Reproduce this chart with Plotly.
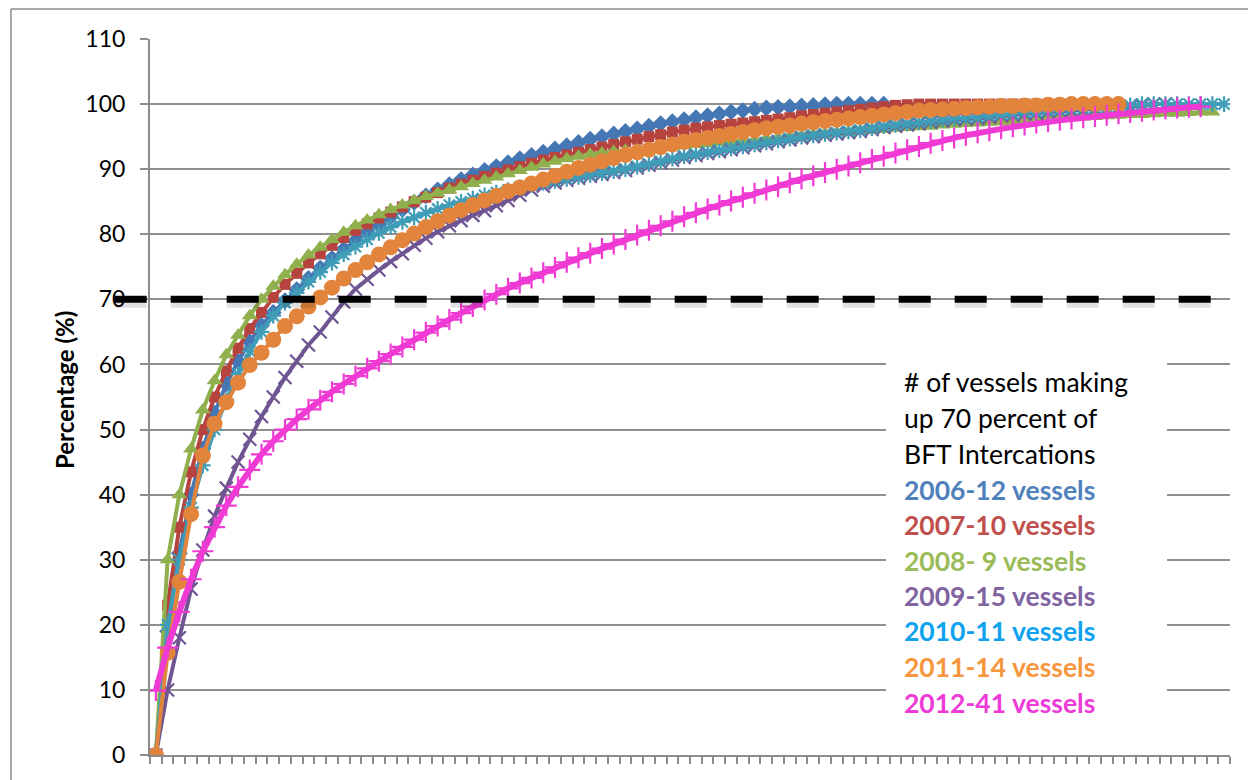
import plotly.graph_objects as go

# Cumulative share of BFT interactions (%) by vessel rank, one list per year
pct_2006 = [0, 19, 31, 40, 47, 52.5, 57, 60.5, 63.5, 66, 68,
            69.8, 71.5, 73.2, 74.8, 76.3, 77.7, 79, 80.3, 81.5, 82.7,
            83.8, 84.9, 85.9, 86.8, 87.6, 88.4, 89.1, 89.8, 90.4, 91.0,
            91.6, 92.1, 92.6, 93.1, 93.6, 94.1, 94.6, 95.0, 95.4, 95.8,
            96.2, 96.6, 97.0, 97.3, 97.6, 97.9, 98.2, 98.5, 98.8, 99.0,
            99.2, 99.4, 99.5, 99.6, 99.7, 99.8, 99.9, 100, 100, 100, 100, 100]

pct_2007 = [0, 23, 35, 43.5, 50, 55, 59, 62.5, 65.5, 68, 70.3,
            72.3, 74, 75.6, 77, 78.3, 79.5, 80.6, 81.6, 82.5, 83.4,
            84.2, 85, 85.7, 86.4, 87.1, 87.7, 88.3, 88.9, 89.4, 89.9,
            90.4, 90.9, 91.4, 91.8, 92.2, 92.6, 93.0, 93.4, 93.8, 94.2,
            94.6, 95.0, 95.3, 95.7, 96.0, 96.3, 96.5, 96.7, 96.9, 97.1,
            97.3, 97.5, 97.7, 97.9, 98.2, 98.4, 98.6, 98.8, 99.0, 99.2,
            99.4, 99.6, 99.8, 99.9, 100, 100, 100, 100, 100, 100,
            100, 100, 100, 100, 100, 100, 100, 100]

pct_2008 = [0, 30, 40, 47, 53, 57.5, 61.5, 64.5, 67.5, 70, 72,
            73.8, 75.4, 76.8, 78, 79.2, 80.3, 81.3, 82.2, 83, 83.8,
            84.5, 85.2, 85.8, 86.3, 86.8, 87.3, 87.8, 88.3, 88.8, 89.3,
            89.8, 90.3, 90.8, 91.2, 91.6, 92.0, 92.3, 92.5, 92.7, 92.9,
            93.0, 93.2, 93.3, 93.5, 93.6, 93.8, 93.9, 94.1, 94.2, 94.4,
            94.5, 94.7, 94.8, 95.0, 95.1, 95.3, 95.4, 95.6, 95.7, 95.9,
            96.0, 96.1, 96.3, 96.4, 96.5, 96.6, 96.8, 96.9, 97.0, 97.1,
            97.2, 97.3, 97.4, 97.5, 97.6, 97.7, 97.8, 97.9, 98.0, 98.1,
            98.2, 98.3, 98.4, 98.4, 98.5, 98.6, 98.6, 98.7, 98.8, 98.8]

pct_2009 = [0, 10, 18, 25.5, 31.5, 36.7, 41, 45, 48.5, 52, 55,
            58, 60.5, 63, 65, 67.3, 69.6, 71.6, 73.1, 74.5, 75.8,
            77, 78.3, 79.4, 80.4, 81.3, 82.1, 82.9, 83.6, 84.4, 85.2,
            86.0, 86.8, 87.4, 87.9, 88.3, 88.6, 88.9, 89.2, 89.5, 89.8,
            90.2, 90.6, 91.0, 91.4, 91.8, 92.1, 92.4, 92.7, 93.0, 93.3,
            93.6, 93.9, 94.2, 94.5, 94.8, 95.0, 95.2, 95.4, 95.6, 95.8,
            96.1, 96.4, 96.6, 96.8, 97.0, 97.2, 97.4, 97.6, 97.7, 97.8,
            98.0, 98.2, 98.3, 98.5, 98.6, 98.8, 98.9, 99.0, 99.1, 99.2,
            99.3, 99.4, 99.6, 99.8, 100, 100]

pct_2010 = [0, 20, 30, 38, 44.5, 50, 54.5, 58.5, 62, 65, 67.5,
            69.5, 71, 72.7, 74.2, 75.6, 76.9, 78.1, 79.2, 80.2, 81.1,
            81.9, 82.6, 83.3, 83.9, 84.5, 85.0, 85.5, 86.0, 86.4, 86.8,
            87.2, 87.6, 87.9, 88.2, 88.5, 88.8, 89.1, 89.4, 89.7, 90.0,
            90.4, 90.8, 91.2, 91.6, 92.0, 92.3, 92.6, 92.9, 93.2, 93.5,
            93.8, 94.1, 94.4, 94.7, 95.0, 95.2, 95.4, 95.6, 95.8, 96.0,
            96.3, 96.6, 96.8, 97.0, 97.2, 97.4, 97.6, 97.8, 97.9, 98.0,
            98.2, 98.4, 98.5, 98.7, 98.8, 99.0, 99.1, 99.2, 99.3, 99.4,
            99.5, 99.6, 99.8, 100, 100, 100, 100, 100, 100, 100, 100]

pct_2011 = [0, 15.7, 26.6, 37, 46, 50.9, 54.2, 57.2, 59.9, 61.8, 63.8,
            65.9, 67.4, 68.9, 70.3, 71.8, 73.2, 74.5, 75.7, 76.9, 78,
            79.1, 80.1, 81.1, 82, 82.9, 83.7, 84.5, 85.2, 85.9, 86.6,
            87.2, 87.8, 88.4, 89, 89.6, 90.2, 90.7, 91.2, 91.7, 92.2,
            92.6, 93.0, 93.4, 93.8, 94.2, 94.5, 94.8, 95.1, 95.4, 95.7,
            96.0, 96.3, 96.5, 96.7, 97.0, 97.2, 97.4, 97.6, 97.8, 98.0,
            98.2, 98.4, 98.6, 98.8, 99.0, 99.1, 99.2, 99.3, 99.4, 99.5,
            99.6, 99.7, 99.7, 99.8, 99.8, 99.9, 99.9, 100, 100, 100, 100, 100]

pct_2012 = [9.9, 16.5, 22, 27, 31.3, 35, 38.3, 41.2, 43.8, 46.2, 48.2,
            50.0, 51.6, 53.1, 54.5, 55.8, 57.0, 58.2, 59.4, 60.5, 61.6,
            62.7, 63.8, 64.9, 65.9, 66.9, 67.9, 68.9, 69.9, 70.8, 71.7,
            72.5, 73.3, 74.1, 74.9, 75.7, 76.4, 77.1, 77.8, 78.5, 79.2,
            79.9, 80.6, 81.3, 82.0, 82.7, 83.3, 83.9, 84.5, 85.1, 85.7,
            86.3, 86.8, 87.3, 87.9, 88.5, 89.0, 89.5, 90.0, 90.5, 91.0,
            91.5, 92.0, 92.5, 93.0, 93.5, 94.0, 94.4, 94.8, 95.2, 95.6,
            95.9, 96.2, 96.5, 96.8, 97.1, 97.3, 97.5, 97.7, 97.9, 98.1,
            98.3, 98.5, 98.7, 98.9, 99.1, 99.3, 99.4, 99.5, 99.6]

n_categories = 92
threshold_pct = 70
y_ticks = [0, 10, 20, 30, 40, 50, 60, 70, 80, 90, 100, 110]

# Text block: (text, colour, bold)
note_lines = [
    ("# of vessels making", "#000000", False),
    ("up 70 percent of", "#000000", False),
    ("BFT Intercations", "#000000", False),
    ("2006-12 vessels", "#4F81BD", True),
    ("2007-10 vessels", "#C0504D", True),
    ("2008- 9 vessels", "#9BBB59", True),
    ("2009-15 vessels", "#8064A2", True),
    ("2010-11 vessels", "#0FA2EE", True),
    ("2011-14 vessels", "#F7963C", True),
    ("2012-41 vessels", "#EE3AD6", True),
]

series = [
    ("2006", pct_2006, "#4677B5", dict(symbol="diamond", size=13), 4),
    ("2007", pct_2007, "#B7433F", dict(symbol="square", size=11), 4),
    ("2008", pct_2008, "#8FB04C", dict(symbol="triangle-up", size=14), 4),
    ("2009", pct_2009, "#6F5592", dict(symbol="x-thin", size=13), 4),
    ("2010", pct_2010, "#3F9DB7", dict(symbol="asterisk", size=13), 4),
    ("2011", pct_2011, "#E2843B", dict(symbol="circle", size=16), 4),
    ("2012", pct_2012, "#F03AD4", dict(symbol="cross-thin", size=15), 6),
]

fig = go.Figure()
for name, vals, color, mk, lw in series:
    marker = dict(symbol=mk["symbol"], size=mk["size"], color=color)
    if mk["symbol"] in ("x-thin", "asterisk", "cross-thin"):
        marker["line"] = dict(color=color, width=2.2)
    else:
        marker["line"] = dict(color=color, width=0)
    fig.add_trace(go.Scatter(
        x=list(range(len(vals))), y=vals, mode="lines+markers", name=name,
        line=dict(color=color, width=lw), marker=marker,
    ))

# Dashed 70 % reference line with a soft shadow
fig.add_shape(type="line", xref="paper", yref="y", x0=-0.0327, x1=0.9824,
              y0=threshold_pct - 0.6, y1=threshold_pct - 0.6,
              line=dict(color="rgba(0,0,0,0.12)", width=9, dash="32px,24px"),
              layer="above")
fig.add_shape(type="line", xref="paper", yref="y", x0=-0.0327, x1=0.9824,
              y0=threshold_pct, y1=threshold_pct,
              line=dict(color="#000000", width=7, dash="32px,24px"),
              layer="above")

# White panel behind the text block
fig.add_shape(type="rect", xref="paper", yref="paper", x0=0.6815, x1=0.9417,
              y0=0.0487, y1=0.5557, fillcolor="white", line=dict(width=0),
              layer="above")

# Outer chart border (left and top edges)
fig.add_shape(type="line", xref="paper", yref="paper", x0=-0.1287, x1=-0.1287,
              y0=-0.1, y1=1.0418, line=dict(color="#8C8C8C", width=1.5), layer="above")
fig.add_shape(type="line", xref="paper", yref="paper", x0=-0.1287, x1=1.1,
              y0=1.0418, y1=1.0418, line=dict(color="#8C8C8C", width=1.5), layer="above")

line_centres_px = [383, 419, 455, 491, 526, 562, 598, 633, 669, 705]
for (txt, col, bold), ypx in zip(note_lines, line_centres_px):
    fig.add_annotation(
        text=f"<b>{txt}</b>" if bold else txt,
        xref="paper", yref="paper", x=(902 - 150) / 1080, y=(757 - ypx) / 718,
        xanchor="left", yanchor="middle", showarrow=False,
        font=dict(family="Lato", size=26.5, color=col),
    )

fig.add_annotation(
    text="<b>Percentage (%)</b>", xref="paper", yref="paper",
    x=(64 - 150) / 1080, y=(757 - 391) / 718, xanchor="center", yanchor="middle",
    textangle=-90, showarrow=False,
    font=dict(family="Lato", size=24, color="#000000"),
)

fig.update_xaxes(
    range=[-0.5, n_categories - 0.5], showgrid=False, zeroline=False,
    showline=True, linecolor="#8C8C8C", linewidth=2,
    tickmode="array", tickvals=[i - 0.5 for i in range(n_categories + 1)],
    ticks="outside", ticklen=7, tickwidth=1.5, tickcolor="#8C8C8C",
    showticklabels=False,
)
fig.update_yaxes(
    range=[0, 110], tickmode="array", tickvals=y_ticks,
    showgrid=True, gridcolor="#8F8F8F", gridwidth=2, zeroline=False,
    showline=True, linecolor="#8C8C8C", linewidth=2,
    ticks="outside", ticklen=8, tickwidth=1.5, tickcolor="#8C8C8C",
    ticklabelstandoff=10,
    tickfont=dict(family="Lato", size=23, color="#000000"),
)
fig.update_layout(
    width=1248, height=780, showlegend=False,
    margin=dict(l=150, r=18, t=39, b=23),
    paper_bgcolor="white", plot_bgcolor="white",
    font=dict(family="Lato"),
)
fig.write_html("out.html")
